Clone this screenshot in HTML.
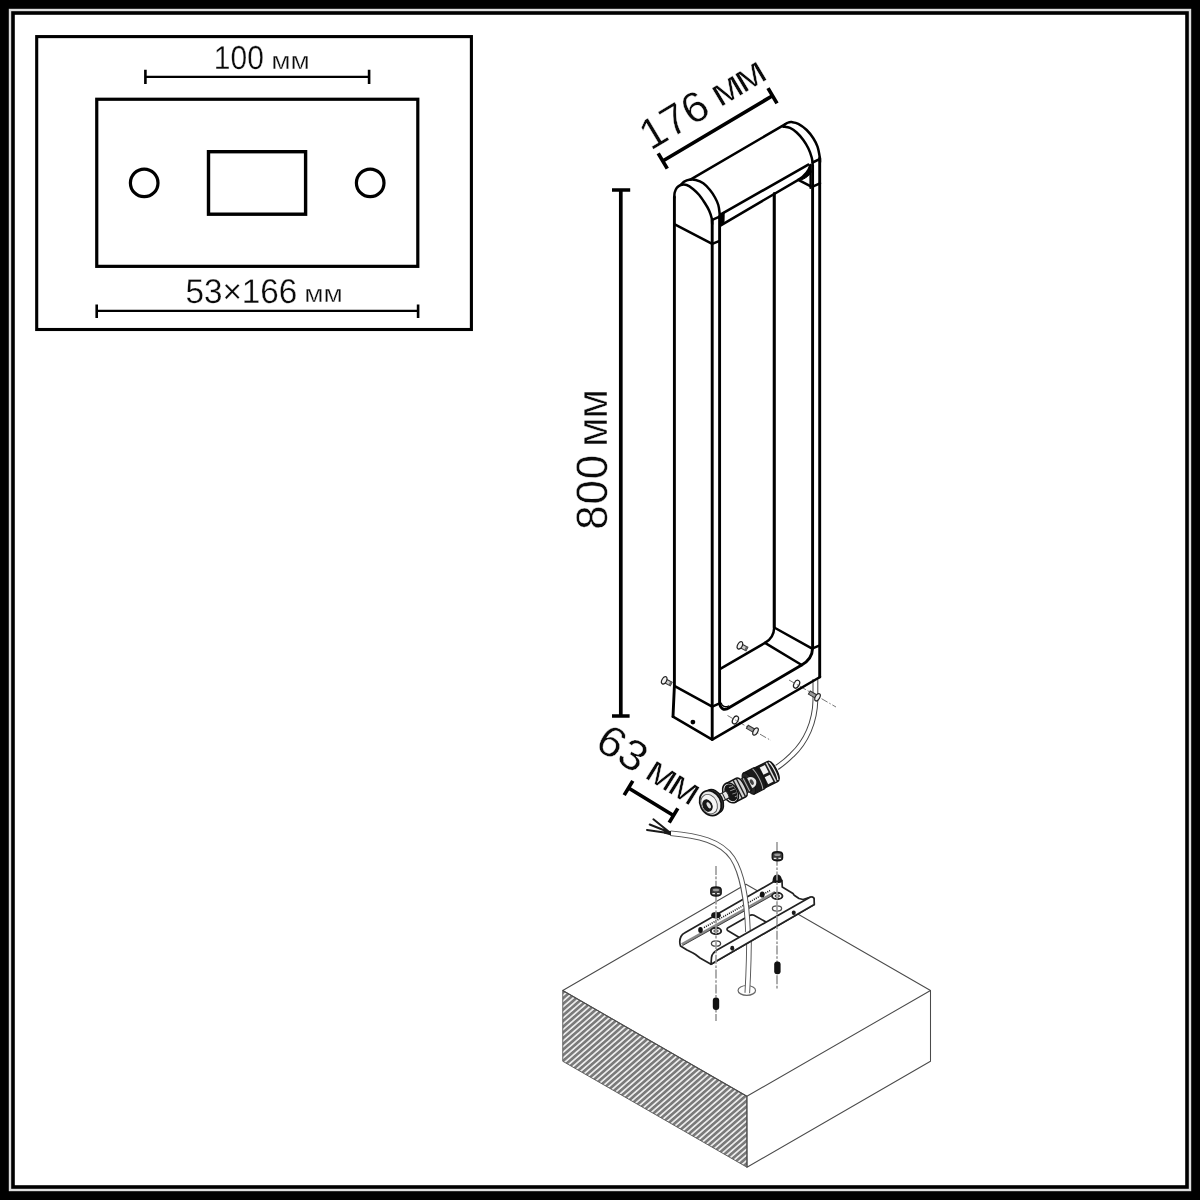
<!DOCTYPE html>
<html lang="ru">
<head>
<meta charset="utf-8">
<title>Схема светильника</title>
<style>
  html, body { margin: 0; padding: 0; background: #000; }
  body { width: 1200px; height: 1200px; overflow: hidden; font-family: "Liberation Sans", sans-serif; }
  svg { display: block; position: absolute; left: 0; top: 0; will-change: transform; }
  text { font-family: "Liberation Sans", sans-serif; fill: #0a0a0a; text-rendering: geometricPrecision; stroke: #fff; stroke-width: 0.3; }
  #dims text { stroke-width: 0.4; }
  .m { fill: none; stroke: #000; stroke-width: 2.5; stroke-linecap: round; stroke-linejoin: round; }
  .d { fill: none; stroke: #000; stroke-width: 3.7; stroke-linecap: butt; }
  .t { fill: none; stroke: #4a4a4a; stroke-width: 1.05; stroke-linecap: round; stroke-linejoin: round; }
  .tw { fill: #fff; stroke: #333; stroke-width: 1.1; stroke-linejoin: round; }
  .c { fill: none; stroke: #9a9a9a; stroke-width: 1.6; }
  .cs { fill: none; stroke: #666; stroke-width: 0.9; stroke-dasharray: 7 2 1.5 2; }
  .b { fill: none; stroke: #222; stroke-width: 1.7; stroke-linecap: round; stroke-linejoin: round; }
  .bw { fill: #fff; stroke: #222; stroke-width: 1.7; stroke-linejoin: round; }
</style>
</head>
<body>
<svg width="1200" height="1200" viewBox="0 0 1200 1200">
  <defs>
    <pattern id="hatch" width="4.3" height="8" patternUnits="userSpaceOnUse" patternTransform="rotate(49 562 990)">
      <rect x="0" y="0" width="4.3" height="8" fill="#f0f0f0"/>
      <rect x="0" y="0" width="2.65" height="8" fill="#7a7a7a"/>
    </pattern>
  </defs>

  <!-- frame -->
  <rect x="0" y="0" width="1200" height="1200" fill="#000"/>
  <rect x="8.8" y="8.8" width="1182.4" height="1182.4" fill="#dedede"/>
  <rect x="11.2" y="11.2" width="1177.6" height="1177.6" fill="#000"/>
  <rect x="14.8" y="14.8" width="1170.4" height="1170.4" fill="#fff"/>

  <!-- ===== inset: mounting plate ===== -->
  <g id="inset">
    <rect x="36.7" y="36.6" width="434.7" height="292.9" fill="#fff" stroke="#000" stroke-width="3.1"/>
    <rect x="96.75" y="99.25" width="321.05" height="167.1" fill="none" stroke="#000" stroke-width="3.2"/>
    <rect x="208.5" y="151.7" width="97.1" height="62.5" fill="none" stroke="#000" stroke-width="3.4"/>
    <circle cx="144.2" cy="182.9" r="13.8" fill="none" stroke="#000" stroke-width="3.2"/>
    <circle cx="370.2" cy="182.9" r="13.8" fill="none" stroke="#000" stroke-width="3.2"/>
    <!-- 100 mm -->
    <path d="M145.400 76.800H369.100" fill="none" stroke="#000" stroke-width="2.2"/><path d="M145.400 69.800v14.200M369.100 69.800v14.200" fill="none" stroke="#000" stroke-width="2.600"/>
    <text x="213.8" y="68.5" font-size="33.2" textLength="50" lengthAdjust="spacingAndGlyphs">100</text>
    <text x="271.2" y="68.6" font-size="24.5" textLength="38.6" lengthAdjust="spacingAndGlyphs">мм</text>
    <!-- 53x166 mm -->
    <path d="M96.700 310.800H418.100" fill="none" stroke="#000" stroke-width="2.300"/><path d="M96.700 304.400v13.500M418.100 304.400v13.500" fill="none" stroke="#000" stroke-width="2.600"/>
    <text x="185.4" y="303.2" font-size="34.3" textLength="112" lengthAdjust="spacingAndGlyphs">53×166</text>
    <text x="304.3" y="302.4" font-size="24.5" textLength="38.6" lengthAdjust="spacingAndGlyphs">мм</text>
  </g>

  <!-- ===== dimensions of the lamp ===== -->
  <g id="dims">
    <!-- 800 mm -->
    <path class="d" d="M620.8 190V716" stroke-width="4.2"/><path class="d" d="M612 190h18.2M612 716h17.600" stroke-width="3.800"/>
    <text transform="translate(606.6 529.7) rotate(-90)" font-size="44"><tspan letter-spacing="0.7">800</tspan><tspan font-size="43.3" letter-spacing="-1.5" dx="-3.4"> мм</tspan></text>
    <!-- 176 mm -->
    <path class="d" d="M662.75 161L772.5 95.75M658.2 153.4L667.3 168.6M768 88.1L777 103.4" stroke-width="3.6"/>
    <text transform="translate(650.6 150.9) rotate(-30.9)" font-size="43" letter-spacing="0.2">176</text>
    <text transform="translate(719.9 107.8) rotate(-30.9) scale(1.11 1)" font-size="39.7" letter-spacing="-2.7">мм</text>
    <!-- 63 mm -->
    <path class="d" d="M628.5 788L673.5 815.5M632.8 780.9L624.2 795.1M677.8 808.4L669.2 822.6"/>
    <text transform="translate(593.2 747.4) rotate(32) scale(1.06 1)" font-size="43" letter-spacing="0">63</text>
    <text transform="translate(643.2 776.9) rotate(32) scale(1.09 1)" font-size="39.5" letter-spacing="-2.6">мм</text>
  </g>


  <!-- ===== concrete block ===== -->
  <g id="block">
    <path d="M562.75 990.5L746.9 1096.25L747 1167.25L562.75 1061.25Z" fill="url(#hatch)" stroke="#555" stroke-width="0.9"/>
    <path class="t" d="M562.75 990.5L746 884.25L930.5 990.5L746.9 1096.25Z" fill="#fff"/>
    <path class="t" d="M746.9 1096.25L747 1167.25L930.5 1061.25V990.5"/>
  </g>

  <!-- ===== lower cable: part under the bracket down to the hole ===== -->
  <g id="cable2b">
    <ellipse cx="746.8" cy="990.4" rx="8.75" ry="4.9" fill="#fff" stroke="#666" stroke-width="1.2"/>
    <path d="M749 930C749.200 950 748.600 970 747.300 993" fill="none" stroke="#555" stroke-width="5.600"/>
    <path d="M749 929C749.200 950 748.600 970 747.300 993.500" fill="none" stroke="#fff" stroke-width="3.700"/>
  </g>

  <!-- ===== mounting bracket ===== -->
  <g id="bracket">
    <!-- floor + back flange -->
    <path class="bw" d="M684.5 933L772.8 882.3C774.500 878.500 781 878.500 782 880.500L782.250 887L793 893.500L794.200 895.200L799 898.500L803 899.500L810 897.250C812 896.500 814 897.500 814.100 899L814.250 904.500L711 964.250L700 958L695.500 954.500L693 953L687 950L680.500 946C679.500 943 679.500 939.500 681 936.500C682 934.500 683 933.600 684.500 933Z"/>
    <!-- seam between back flange and floor (grey band) -->
    <path d="M681.800 944.400L775.200 892.300" fill="none" stroke="#8a8a8a" stroke-width="2.800"/>
    <path d="M682.500 945.600L775.800 893.500" fill="none" stroke="#333" stroke-width="0.9"/>
    <path d="M704 927.600L770 890.500" fill="none" stroke="#222" stroke-width="1.600" stroke-dasharray="1.1 1.1"/>
    <!-- center cutout -->
    <path class="b" d="M738.500 937L728 930.800C726.600 929.900 726.700 928.600 728 927.800L749.500 915.600C751 914.600 752.500 914.500 754 915.300L766 922" stroke-width="1.400"/>
    <!-- washers / holes -->
    <ellipse cx="716" cy="931" rx="5.2" ry="3.200" fill="#fff" stroke="#222" stroke-width="1.900"/>
    <ellipse cx="716" cy="931" rx="2.200" ry="1.200" fill="none" stroke="#333" stroke-width="1"/>
    <ellipse cx="716" cy="943.500" rx="4.600" ry="2.700" fill="#fff" stroke="#444" stroke-width="1.300"/>
    <ellipse cx="777.250" cy="896" rx="5.200" ry="3.200" fill="#fff" stroke="#222" stroke-width="1.900"/>
    <ellipse cx="777.250" cy="896" rx="2.200" ry="1.200" fill="none" stroke="#333" stroke-width="1"/>
    <ellipse cx="777" cy="908.500" rx="4.600" ry="2.600" fill="#fff" stroke="#555" stroke-width="1.300"/>
    <!-- rivets -->
    <ellipse cx="700.500" cy="930" rx="2.300" ry="3" fill="#111"/>
    <ellipse cx="762.250" cy="894.500" rx="2.400" ry="3.100" fill="#111"/>
    <!-- nuts on flange -->
    <ellipse cx="716" cy="915.250" rx="4.800" ry="3.300" fill="#161616"/>
    <path d="M772.500 881.500C772.500 876.500 775 874.600 777.300 874.600C780 874.600 782 877 782 881.500C782 883.500 772.500 883.500 772.500 881.500Z" fill="#161616"/>
  </g>

  <!-- lower cable: upper part from stripped wires into the bracket cut-out -->
  <g id="cable2a">
    <path d="M670.500 833.200C698 835.500 721 841 732.500 858C741.500 872 747 900 748 932" fill="none" stroke="#555" stroke-width="5.600" stroke-linecap="butt"/>
    <path d="M669.500 833.100C698 835.500 721 841 732.500 858C741.500 872 747 900 748 933" fill="none" stroke="#fff" stroke-width="3.700" stroke-linecap="butt"/>
    <path d="M669.5 833.200L647 830M668.500 832L649.700 824.500M668 831L653.400 819.300" fill="none" stroke="#1a1a1a" stroke-width="2" stroke-linecap="round"/>
    <path d="M664 830.500L671 831L671 835.500L664 833.500Z" fill="#1a1a1a"/>
  </g>
  <!-- front flange, drawn over the cable -->
  <path class="bw" d="M717 950L810 897.250C812 896.500 814 897.500 814.100 899L814.250 904.500L711 964.250L711.500 957.500C711.800 955.500 712.500 954 713.500 953Z"/>
  <ellipse cx="732.250" cy="948.250" rx="2" ry="2.400" fill="#1a1a1a"/>
  <ellipse cx="793.750" cy="912.750" rx="2" ry="2.300" fill="#1a1a1a"/>

  <!-- centre lines, nuts, set screws -->
  <g id="fasteners">
    <path class="c" d="M716 866V1021" stroke-dasharray="9 1.600 2.600 1.600"/>
    <path class="c" d="M777 842V990" stroke-dasharray="9 1.600 2.600 1.600"/>
    <!-- floating nuts -->
    <g transform="translate(716 891.500)">
      <path d="M-5.200 -1.800C-5.200 -3.800 -2.600 -4.500 0 -4.500C2.600 -4.500 5.200 -3.800 5.200 -1.800V1.800C5.200 3.600 2.800 4.500 0 4.500C-2.800 4.500 -5.200 3.600 -5.200 1.800Z" fill="#3a3a3a" stroke="#111" stroke-width="1.300"/>
      <ellipse cx="0" cy="-1.500" rx="3.200" ry="1.300" fill="#9a9a9a"/>
      <path d="M-3.600 2.200H-1M1 2.200H3.600" stroke="#e8e8e8" stroke-width="1.300"/>
    </g>
    <g transform="translate(777.400 856.250)">
      <path d="M-5.200 -1.800C-5.200 -3.800 -2.600 -4.500 0 -4.500C2.600 -4.500 5.200 -3.800 5.200 -1.800V1.800C5.200 3.600 2.800 4.500 0 4.500C-2.800 4.500 -5.200 3.600 -5.200 1.800Z" fill="#3a3a3a" stroke="#111" stroke-width="1.300"/>
      <ellipse cx="0" cy="-1.500" rx="3.200" ry="1.300" fill="#9a9a9a"/>
      <path d="M-3.600 2.200H-1M1 2.200H3.600" stroke="#e8e8e8" stroke-width="1.300"/>
    </g>
    <!-- set screws -->
    <rect x="712.800" y="997.500" width="6.400" height="12.600" rx="3" fill="#111"/>
    <rect x="774.200" y="961.600" width="6.400" height="12.600" rx="3" fill="#111"/>
  </g>

  <!-- ===== upper cable from lamp to connector ===== -->
  <g id="cable1">
    <path d="M815.4 679V700C815 722 806 742 792 755C787 760 782 764 777 767.5" fill="none" stroke="#444" stroke-width="5.8"/>
    <path d="M815.4 678V700C815 722 806 742 792 755C787 760 782 764 776 768" fill="none" stroke="#fff" stroke-width="3.8"/>
  </g>

  <!-- ===== connector ===== -->
  <g id="connector" transform="translate(735 790.6) rotate(-27)">
    <!-- gland end with windows -->
    <path d="M29 -11.300H42C45 -11.300 46.600 -6 46.600 0C46.600 6 45 11.300 42 11.300H29Z" fill="#1c1c1c" stroke="#111" stroke-width="1.2"/>
    <path d="M32.500 -9.300H38.300V-1.200H32.500Z M32.500 1.600H38.300V9.300H32.500Z" fill="#f2f2f2"/>
    <path d="M40.600 -10.600V10.600" stroke="#ddd" stroke-width="1.500"/>
    <path d="M43 -10C45 -6 45 6 43 10" stroke="#eee" stroke-width="1.200" fill="none"/>
    <!-- big flange -->
    <path d="M15.500 -11.800H27C30 -11.800 31.500 -6 31.500 0C31.500 6 30 11.800 27 11.800H15.500Z" fill="#1a1a1a" stroke="#111" stroke-width="1.2"/>
    <path d="M25.500 -11.300C27.500 -6 27.500 6 25.500 11.300" stroke="#aaa" stroke-width="1" fill="none"/>
    <ellipse cx="15.500" cy="0" rx="4.600" ry="11.800" fill="#262626" stroke="#111" stroke-width="1"/>
    <path d="M16.500 -5.500C20 -6.300 23 -3.800 23.400 0C23 3.800 20 6.100 16.500 5.500Z" fill="#e8e8e8"/>
    <ellipse cx="18.800" cy="0" rx="1.700" ry="3" fill="#444"/>
    <!-- waist between bodies -->
    <path d="M8 -7.500H15V7.500H8Z" fill="#2e2e2e" stroke="#111" stroke-width="1"/>
    <path d="M10.500 -7.300V7.300M12.800 -7.300V7.300" stroke="#bbb" stroke-width="0.9"/>
    <!-- middle body -->
    <path d="M-5 -10.400H6.800C9.500 -10.400 10.800 -5.500 10.800 0C10.800 5.500 9.500 10.400 6.800 10.400H-5Z" fill="#d4d4d4" stroke="#111" stroke-width="1.500"/>
    <path d="M3 -10.200V10.200M6.600 -10.200V10.200" stroke="#222" stroke-width="1.400"/>
    <ellipse cx="-5" cy="0" rx="7.200" ry="10.500" fill="#e8e8e8" stroke="#111" stroke-width="1.500"/>
    <ellipse cx="-4.600" cy="0" rx="5.900" ry="9" fill="#151515"/>
    <path d="M-4 -5.500L0 -4.600M-4.500 -2L0.500 -1.500M-4 2L0.500 2.500M-3 5.600L0 5.600" stroke="#999" stroke-width="0.9"/>
    <!-- neck -->
    <path d="M-18 -3.800H-8.500C-7.500 -2 -7.500 2 -8.500 3.800H-18Z" fill="#e6e6e6" stroke="#222" stroke-width="1.100"/>
    <path d="M-12.500 -3.800V3.800" stroke="#222" stroke-width="1"/>
    <!-- cap nut -->
    <ellipse cx="-23.500" cy="0" rx="8.500" ry="12.600" fill="#444" stroke="#111" stroke-width="1.400"/>
    <ellipse cx="-27.500" cy="0" rx="10.300" ry="13" fill="#e9e9e9" stroke="#111" stroke-width="1.800"/>
    <ellipse cx="-29.200" cy="0.300" rx="7.800" ry="10.200" fill="#f6f6f6" stroke="#555" stroke-width="0.9"/>
    <ellipse cx="-31.300" cy="0.800" rx="4.300" ry="6" fill="#1a1a1a" stroke="#111" stroke-width="1"/>
    <ellipse cx="-30.100" cy="1.200" rx="1.700" ry="3.400" fill="#e0e0e0"/>
  </g>

  <!-- ===== small screws on lamp base ===== -->
  <g id="screws">
    <!-- holes on base front -->
    <ellipse cx="735.4" cy="720" rx="2.6" ry="4.2" transform="rotate(28 735.4 720)" fill="#fff" stroke="#222" stroke-width="1.3"/>
    <ellipse cx="796.6" cy="684.2" rx="2.6" ry="4.200" transform="rotate(28 796.6 684.2)" fill="#fff" stroke="#222" stroke-width="1.3"/>
    <path class="cs" d="M727.5 715.500L771 740.500"/>
    <path class="cs" d="M789 680L836 707"/>
    <g transform="translate(752.500 729.800) rotate(30)">
      <path d="M-6 -1.800H2V1.800H-6Z" fill="#999" stroke="#333" stroke-width="1"/>
      <ellipse cx="3.400" cy="0" rx="2.200" ry="4" fill="#eee" stroke="#222" stroke-width="1.2"/>
    </g>
    <g transform="translate(814.5 695.600) rotate(30)">
      <path d="M-6 -1.800H2V1.800H-6Z" fill="#999" stroke="#333" stroke-width="1"/>
      <ellipse cx="3.400" cy="0" rx="2.200" ry="4" fill="#eee" stroke="#222" stroke-width="1.2"/>
    </g>
    <!-- screws on back/left -->
    <g transform="translate(665.5 681) rotate(28)">
      <path d="M0 -2H6.500V2H0Z" fill="#ccc" stroke="#333" stroke-width="1"/><path d="M4.500 -2H6.500V2H4.500Z" fill="#666"/>
      <ellipse cx="-1.400" cy="0" rx="2.300" ry="4" fill="#f2f2f2" stroke="#222" stroke-width="1.200"/>
    </g>
    <g transform="translate(741.200 646) rotate(28)">
      <path d="M0 -2H6.500V2H0Z" fill="#ccc" stroke="#333" stroke-width="1"/><path d="M4.500 -2H6.500V2H4.500Z" fill="#666"/>
      <ellipse cx="-1.400" cy="0" rx="2.300" ry="4" fill="#f2f2f2" stroke="#222" stroke-width="1.200"/>
    </g>
  </g>
  <!-- ===== lamp body ===== -->
  <g id="lamp" class="m">
    <!-- outer silhouette verticals -->
    <path d="M673 716.600L712.2 739.600L820 677"/>
    <path d="M674.400 197V686L673 716.600M819.700 677V158M712.200 220V739.600M774.200 194V627.500" stroke-width="2.900"/>
    <!-- left cap: inner (front) arc and outer arc -->
    <path d="M674.3 197.5C674.4 196.7 674.3 194.1 674.7 192.5C675.1 190.9 675.7 189.2 676.7 187.9C677.7 186.7 679.1 185.5 680.8 185.0C682.5 184.5 684.6 184.3 686.7 185.0C688.8 185.7 691.2 187.5 693.3 189.2C695.4 190.9 697.2 192.7 699.2 195.0C701.2 197.3 703.3 200.7 705.0 203.3C706.7 205.9 708.1 208.3 709.2 210.8C710.3 213.3 711.2 216.1 711.7 218.3C712.2 220.5 712.1 223.1 712.2 224.0"/>
    <path d="M680.8 184.8C681.4 184.3 682.8 182.5 684.2 181.7C685.6 180.9 687.3 180.1 689.2 179.8C691.1 179.5 693.4 179.4 695.8 180.0C698.1 180.6 700.9 181.6 703.3 183.3C705.7 185.0 708.0 187.6 710.0 190.0C712.0 192.4 713.6 195.0 715.0 197.5C716.4 200.0 717.5 202.4 718.3 205.0C719.1 207.6 719.4 211.1 719.6 213.3C719.8 215.5 719.6 217.5 719.6 218.3"/>
    <!-- top edge -->
    <path d="M690 179.8L785 124.4"/>
    <!-- right cap arcs -->
    <path d="M783.3 126.7C784.4 126.9 787.8 126.9 790.0 127.9C792.2 128.9 794.5 130.5 796.7 132.5C798.9 134.5 801.4 137.4 803.3 140.0C805.2 142.6 806.9 145.4 808.3 148.3C809.7 151.2 811.0 155.0 811.7 157.5C812.4 160.0 812.5 162.3 812.6 163.3"/>
    <path d="M785.0 124.2C785.5 123.9 786.9 122.9 788.0 122.6C789.1 122.2 790.0 121.9 791.7 122.1C793.4 122.3 795.8 122.4 798.3 123.8C800.8 125.1 804.2 127.6 806.7 130.0C809.2 132.4 811.5 135.5 813.3 138.3C815.1 141.1 816.4 143.5 817.5 146.7C818.6 149.9 819.4 154.9 819.8 157.5C820.2 160.1 820.0 161.2 820.0 162.0"/>
    <!-- bands and little joints on left -->
    <path d="M674.3 224.2L712.2 243.8L719.6 240.8"/>
    <path d="M712.2 219.8L719.6 216.7"/>
    <path d="M674.3 685.8L712.2 706.6L719.6 703.3"/>
    <!-- joints on right -->
    <path d="M812.6 162.5L819.6 159.2"/>
    <path d="M812.6 186.7L820 183.3"/>
    <path d="M812.6 648.3L819.8 645.3"/>
    <!-- inner opening: front edge -->
    <path d="M719.6 216.5V702C719.8 708.5 724 711.5 729.4 707.5L801.7 665C808.5 661.2 812.4 655.5 812.6 648.3V165" stroke-width="2.9"/>
    <path d="M810.4 166V188" stroke-width="2"/>
    <!-- top underside lines -->
    <path d="M720.8 214.4L808.3 164.6"/>
    <path d="M720.8 225.4L798.3 179.8C804.5 176 808.8 171 810.4 165"/><path d="M800 178.600C805 175.500 808.500 171.500 810 166.500L811.500 172C810 175 806 178 802.500 179.500Z" fill="#000" stroke-width="1"/>
    <path d="M720.6 214L724.2 212L724 222.6L720.6 224.6Z" fill="#000" stroke-width="1"/>
    <path d="M798.3 179.8L810.4 186.2"/>
    <!-- right inner wall back edge -->
    <path d="M774.2 193.5V627.5C774 634.5 770.5 639.8 765 642.9L720.7 668.6"/>
    <path d="M774.2 627.5L811.7 648.3"/>
    <path d="M765 642.9L801.7 665"/>
    <path d="M721.2 703.2C722 706.5 725.5 707.6 728.6 706" stroke-width="1.4"/>
  </g>
  <circle cx="692.9" cy="722.1" r="2.4" fill="#000"/>
</svg>
</body>
</html>
